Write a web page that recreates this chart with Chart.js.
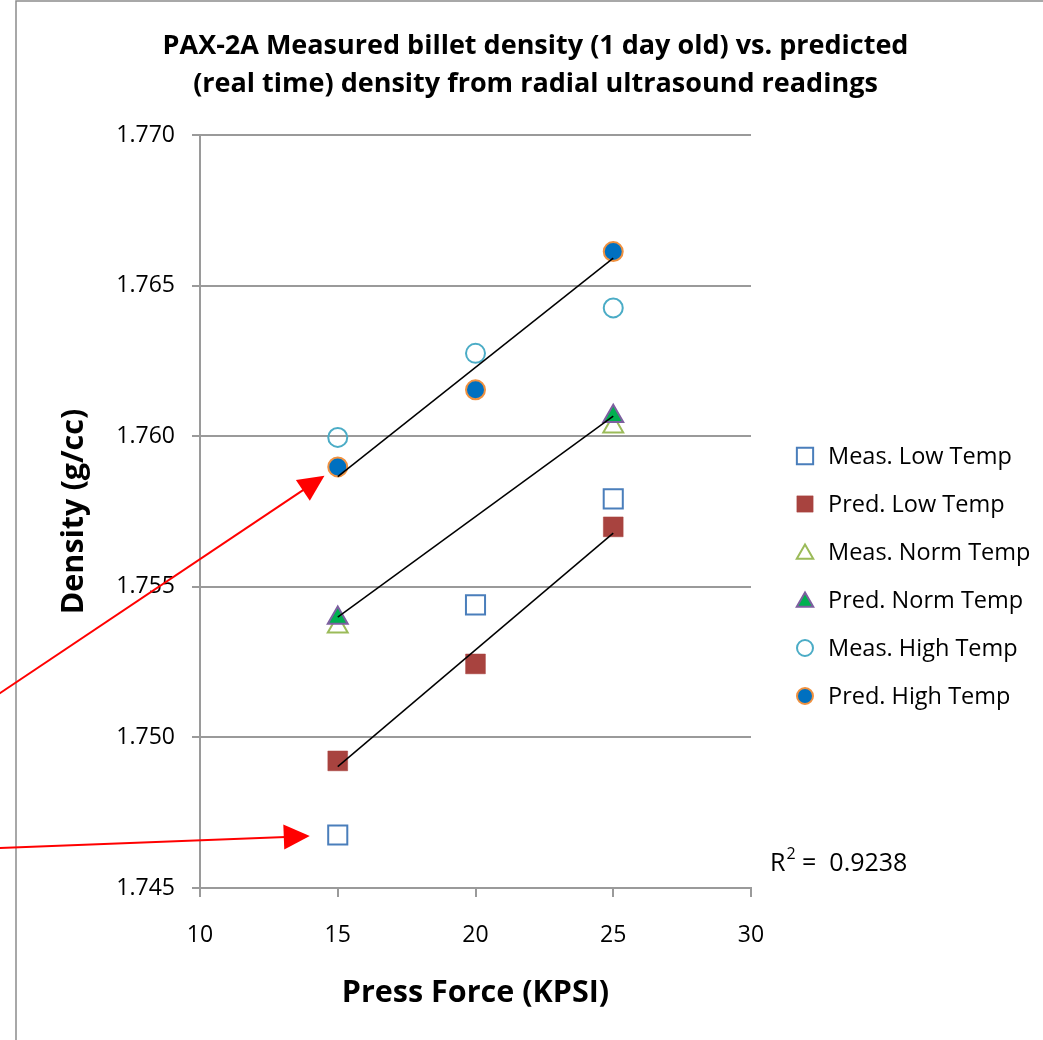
<!DOCTYPE html>
<html><head><meta charset="utf-8">
<script src="https://cdn.jsdelivr.net/npm/chart.js@4.4.0/dist/chart.umd.min.js"></script>
<style>html,body{margin:0;padding:0;background:#fff}#wrap{width:1043px;height:1040px}</style>
</head><body><div id="wrap"><canvas id="c" width="1043" height="1040"></canvas></div>
<script>
// ---- data ----
const pressForce   = [15, 20, 25];
const measLowTemp  = [1.74676, 1.75440, 1.75792];
const predLowTemp  = [1.74922, 1.75244, 1.75699];
const measNormTemp = [1.75367, null, 1.76031];
const predNormTemp = [1.75396, null, 1.76066];
const measHighTemp = [1.75996, 1.76275, 1.76426];
const predHighTemp = [1.75898, 1.76154, 1.76613];
const trendX    = [15, 25];
const trendLow  = [1.74903, 1.75678];
const trendNorm = [1.75399, 1.76067];
const trendHigh = [1.75866, 1.76591];
const yTicks = [1.745, 1.750, 1.755, 1.760, 1.765, 1.770];
const xTicks = [10, 15, 20, 25, 30];
const seriesLabels = ['Meas. Low Temp','Pred. Low Temp','Meas. Norm Temp','Pred. Norm Temp','Meas. High Temp','Pred. High Temp'];
const titleLines = ['PAX-2A Measured billet density (1 day old) vs. predicted','(real time) density from radial ultrasound readings'];
const xTitle = 'Press Force (KPSI)';
const yTitle = 'Density (g/cc)';
const rSquared = '0.9238';
// arrow annotations: tail at left canvas edge (y in data units), pointing to a data point
const arrowTailY = [1.75147, 1.74633];
const arrowTargets = [[pressForce[0], predHighTemp[0]], [pressForce[0], measLowTemp[0]]];

const FONT = "'Open Sans', sans-serif";
Chart.defaults.font.family = FONT;
Chart.defaults.color = '#000';

function pts(xs, ys){ return xs.map((x,i)=>({x:x, y:ys[i]})).filter(p=>p.y!==null); }

const styles = [
  {pointStyle:'rect', radius:13.5, bg:'rgba(0,0,0,0)', border:'#4A7EBB', bw:2, order:2},
  {pointStyle:'rect', radius:14, bg:'#A8433F', border:'#A8433F', bw:0.5, order:1},
  {pointStyle:'triangle', radius:11.5, bg:'rgba(0,0,0,0)', border:'#9BBB59', bw:2, order:2},
  {pointStyle:'triangle', radius:11.5, bg:'#00B050', border:'#7D5FA0', bw:2, order:1},
  {pointStyle:'circle', radius:9.5, bg:'rgba(0,0,0,0)', border:'#4BACC6', bw:2, order:2},
  {pointStyle:'circle', radius:9.5, bg:'#0070C0', border:'#F0913F', bw:2, order:1},
];
const seriesData = [measLowTemp, predLowTemp, measNormTemp, predNormTemp, measHighTemp, predHighTemp];

const datasets = seriesData.map((ys,i)=>({
  type:'scatter', label: seriesLabels[i], data: pts(pressForce, ys),
  pointStyle: styles[i].pointStyle, pointRadius: styles[i].radius, pointHoverRadius: styles[i].radius,
  backgroundColor: styles[i].bg, borderColor: styles[i].border, pointBorderWidth: styles[i].bw,
  order: styles[i].order, inLegend: true, legendStyle: styles[i]
}));
[trendLow, trendNorm, trendHigh].forEach(t=>{
  datasets.push({type:'line', label:'trend', data: pts(trendX, t), showLine:true, pointRadius:0,
    borderColor:'#000', borderWidth:1.5, fill:false, order:0, inLegend:false});
});

const GRID = '#9a9a9a';

const decor = {
  id:'decor',
  beforeDraw(chart){
    const c = chart.ctx;
    c.save();
    c.fillStyle = '#fff'; c.fillRect(0,0,chart.width,chart.height);
    c.strokeStyle = '#8c8c8c'; c.lineWidth = 1.5;
    c.beginPath(); c.moveTo(16, chart.height+2); c.lineTo(16, 1); c.lineTo(chart.width+2, 1); c.stroke();
    c.restore();
  },
  afterDraw(chart){
    const c = chart.ctx, xs = chart.scales.x, ys = chart.scales.y;
    c.save();
    // title
    c.font = "bold 27px " + FONT; c.textAlign = 'center'; c.textBaseline = 'middle'; c.fillStyle = '#000';
    titleLines.forEach((t,i)=> c.fillText(t, 535.5, 46 + i*38));
    // legend
    const items = chart.data.datasets.filter(d=>d.inLegend);
    const lx = 805, tx = 828, y0 = 456, step = 48;
    c.font = "23.5px " + FONT; c.textBaseline = 'middle'; c.textAlign = 'left';
    items.forEach((d,i)=>{
      const y = y0 + i*step, s = d.legendStyle;
      c.fillStyle = s.bg; c.strokeStyle = s.border; c.lineWidth = s.bw;
      const r = s.pointStyle==='rect' ? 11.5 : (s.pointStyle==='triangle' ? 9.5 : 8);
      const yy = s.pointStyle==='triangle' ? y + 2 : y;
      Chart.helpers.drawPoint(c, {pointStyle:s.pointStyle, radius:r, borderWidth:s.bw, rotation:0}, lx, yy);
      c.fillStyle = '#000';
      c.fillText(d.label, tx, y + 1);
    });
    // R^2 label
    c.font = "25px " + FONT; c.textBaseline = 'alphabetic'; c.fillStyle = '#000';
    let x = 770; const by = 871;
    c.fillText('R', x, by); x += c.measureText('R').width;
    c.font = "16px " + FONT; c.fillText('2', x + 1, by - 12); x += c.measureText('2').width + 1;
    c.font = "25px " + FONT; c.fillText(' =  ' + rSquared, x, by);
    // arrows
    const gaps = [16, 28];
    c.strokeStyle = '#FF0000'; c.fillStyle = '#FF0000'; c.lineWidth = 2;
    arrowTargets.forEach((t,i)=>{
      const px = xs.getPixelForValue(t[0]), py = ys.getPixelForValue(t[1]);
      const sx = 0, sy = ys.getPixelForValue(arrowTailY[i]);
      const dx = px - sx, dy = py - sy, L = Math.hypot(dx,dy), ux = dx/L, uy = dy/L;
      const tipX = px - ux*gaps[i], tipY = py - uy*gaps[i];
      const hl = 26, hw = 12.5;
      const bx = tipX - ux*hl, byy = tipY - uy*hl;
      c.beginPath(); c.moveTo(sx - ux*20, sy - uy*20); c.lineTo(bx + ux*2, byy + uy*2); c.stroke();
      c.beginPath(); c.moveTo(tipX, tipY);
      c.lineTo(bx - uy*hw, byy + ux*hw); c.lineTo(bx + uy*hw, byy - ux*hw); c.closePath(); c.fill();
    });
    c.restore();
  }
};

new Chart(document.getElementById('c'), {
  data: { datasets },
  options: {
    responsive:false, animation:false, devicePixelRatio:1,
    layout:{ padding:{ left:0, right:292, top:135, bottom:0 } },
    plugins:{ legend:{ display:false }, tooltip:{ enabled:false }, title:{ display:false } },
    scales:{
      x:{ type:'linear', min:10, max:30,
        afterBuildTicks: s=>{ s.ticks = xTicks.map(v=>({value:v})); },
        afterFit: s=>{ s.height = 152; },
        grid:{ drawOnChartArea:false, drawTicks:true, tickLength:9, color:GRID, lineWidth:2 },
        border:{ display:true, color:GRID, width:2 },
        ticks:{ font:{ size:23 }, color:'#000', padding:25, maxRotation:0 },
        title:{ display:true, text:xTitle, font:{ size:30.5, weight:'bold' }, color:'#000', padding:{ top:0, bottom:28 } }
      },
      y:{ type:'linear', min:1.745, max:1.770,
        afterBuildTicks: s=>{ s.ticks = yTicks.map(v=>({value:v})); },
        afterFit: s=>{ s.width = 200; },
        grid:{ drawOnChartArea:true, drawTicks:true, tickLength:8, color:GRID, lineWidth:2 },
        border:{ display:true, color:GRID, width:2 },
        ticks:{ font:{ size:23 }, color:'#000', padding:17, callback: v=>Number(v).toFixed(3) },
        title:{ display:true, text:yTitle, font:{ size:30.5, weight:'bold' }, color:'#000', padding:{ top:56, bottom:0 } }
      }
    }
  },
  plugins:[decor]
});
</script></body></html>
